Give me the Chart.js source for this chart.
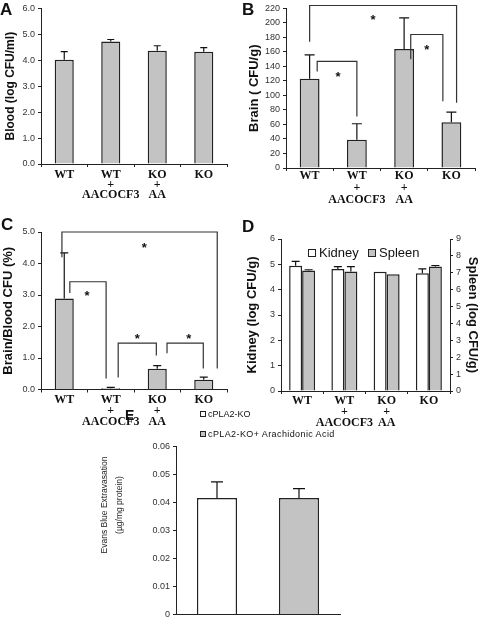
<!DOCTYPE html>
<html><head><meta charset="utf-8"><title>cPLA2 figure</title>
<script src="https://cdn.jsdelivr.net/npm/chart.js@4.4.1/dist/chart.umd.min.js"></script>
<style>
html,body{margin:0;padding:0;background:#fff}
body{position:relative;width:480px;height:623px;overflow:hidden;font-family:Arial,"Liberation Sans",sans-serif;color:#111}
canvas{position:absolute}
.let{position:absolute;font-weight:bold;font-size:17px;line-height:1}
.txt{position:absolute;white-space:nowrap}
.bx{position:absolute;box-sizing:border-box;border:1px solid #222}
.ytitle{position:absolute;text-align:center;transform:rotate(-90deg);white-space:nowrap}
</style></head>
<body>
<canvas id="cA" width="240" height="210" style="left:0;top:0"></canvas>
<canvas id="cB" width="240" height="210" style="left:240px;top:0"></canvas>
<canvas id="cC" width="240" height="225" style="left:0;top:210px"></canvas>
<canvas id="cD" width="240" height="225" style="left:240px;top:210px"></canvas>
<canvas id="cE" width="255" height="223" style="left:95px;top:400px"></canvas>

<div class="let" style="left:0;top:1px">A</div>
<div class="let" style="left:242px;top:1px">B</div>
<div class="let" style="left:1px;top:216px">C</div>
<div class="let" style="left:242px;top:218px">D</div>
<div class="let" style="left:125px;top:408px;font-size:14px">E</div>

<!-- legend D -->
<div class="bx" style="left:308px;top:249px;width:8px;height:8px;background:#fff"></div>
<div class="txt" id="lgK" style="left:319px;top:246px;font-size:13px;line-height:13px"></div>
<div class="bx" style="left:368px;top:249px;width:8px;height:8px;background:#c3c3c3"></div>
<div class="txt" id="lgS" style="left:379px;top:246px;font-size:13px;line-height:13px"></div>
<!-- legend E -->
<div class="bx" style="left:200px;top:411px;width:6px;height:6px;background:#fff"></div>
<div class="txt" id="lgE0" style="left:208px;top:409px;font-size:9px;line-height:10px"></div>
<div class="bx" style="left:200px;top:431px;width:6px;height:6px;background:#c3c3c3"></div>
<div class="txt" id="lgE1" style="left:208px;top:429px;font-size:9px;line-height:10px;letter-spacing:0.4px"></div>
<!-- y title E -->
<div class="ytitle" id="tE" style="left:41.5px;top:490px;width:140px;height:30px;font-size:8.5px;line-height:15px;color:#222"></div>

<script>
// ---------------- data ----------------
const categories = [['WT'], ['WT', '+', 'AACOCF3'], ['KO', '+', 'AA'], ['KO']];

const bloodMean = [4.02, 4.72, 4.37, 4.33];
const bloodErr  = [0.31, 0.08, 0.19, 0.16];

const brainMean = [123, 39, 164, 63];
const brainErr  = [33, 22, 43, 14];

const ratioMean = [2.89, 0.04, 0.66, 0.31];
const ratioErr  = [1.45, 0.03, 0.10, 0.08];

const organSeries = ['Kidney', 'Spleen'];
const kidneyMean = [4.94, 4.82, 4.71, 4.65];
const kidneyErr  = [0.18, 0.09, 0, 0.17];
const spleenMean = [7.13, 7.07, 6.92, 7.37];
const spleenErr  = [0.05, 0.30, 0, 0.06];

const evansLabels = ['cPLA2-KO', 'cPLA2-KO+ Arachidonic Acid'];
const evansMean = [0.0417, 0.0417];
const evansErr  = [0.0057, 0.0033];

// significance brackets: [xFrom, xTo, yTop, yLeftEnd, yRightEnd, starX, starY] (category index / data units)
const brainBrackets = [
  [0.00, 3.11, 224, 174, 90, 1.34, 209],
  [0.16, 1.00, 147, 133, 71, 0.60, 131],
  [2.14, 2.82, 184, 150, 92, 2.48, 168]
];
const ratioBrackets = [
  [-0.05, 3.29, 5.00, 4.20, 0.67, 1.72, 4.62],
  [0.12, 0.90, 3.42, 3.06, 0.35, 0.49, 3.07],
  [1.16, 1.98, 1.47, 0.38, 1.08, 1.57, 1.72],
  [2.21, 2.99, 1.47, 1.15, 0.67, 2.68, 1.72]
];

// ---------------- style ----------------
const SANS = 'Arial, "Liberation Sans", Helvetica, sans-serif';
const SERIF = '"Liberation Serif", "Times New Roman", Times, serif';
const GRAY = '#c3c3c3';
const INK = '#222';

Chart.defaults.font.family = SANS;
Chart.defaults.color = INK;
Chart.defaults.animation = false;
Chart.defaults.plugins.legend.display = false;
Chart.defaults.plugins.tooltip.enabled = false;

const errorBarPlugin = {
  id: 'errbars',
  afterDatasetsDraw(chart, args, opts) {
    const ctx = chart.ctx;
    chart.data.datasets.forEach((ds, i) => {
      if (!ds.errors) return;
      const meta = chart.getDatasetMeta(i);
      const ys = chart.scales[meta.yAxisID];
      meta.data.forEach((bar, j) => {
        const e = ds.errors[j];
        if (!e) return;
        const x = bar.x;
        const y0 = ys.getPixelForValue(ds.data[j]);
        const y1 = ys.getPixelForValue(ds.data[j] + e);
        ctx.save();
        ctx.strokeStyle = '#111';
        ctx.lineWidth = 1.2;
        ctx.beginPath();
        ctx.moveTo(x, y0); ctx.lineTo(x, y1);
        ctx.moveTo(x - opts.cap, y1); ctx.lineTo(x + opts.cap, y1);
        ctx.stroke();
        ctx.restore();
      });
    });
  }
};

const bracketPlugin = {
  id: 'brackets',
  afterDatasetsDraw(chart, args, opts) {
    const items = opts.items;
    if (!items) return;
    const xs = chart.scales.x, ys = chart.scales.y;
    const p0 = xs.getPixelForValue(0), step = xs.getPixelForValue(1) - p0;
    const px = v => p0 + v * step;
    const py = v => ys.getPixelForValue(v);
    const ctx = chart.ctx;
    ctx.save();
    ctx.strokeStyle = '#333';
    ctx.lineWidth = 1.2;
    ctx.fillStyle = '#111';
    ctx.font = 'bold 13px ' + SANS;
    ctx.textAlign = 'center';
    ctx.textBaseline = 'alphabetic';
    items.forEach(b => {
      const [x1, x2, top, l, r, sx, sy] = b;
      ctx.beginPath();
      ctx.moveTo(px(x1), py(l));
      ctx.lineTo(px(x1), py(top));
      ctx.lineTo(px(x2), py(top));
      ctx.lineTo(px(x2), py(r));
      ctx.stroke();
      ctx.fillText('*', px(sx), py(sy) + 0.58 * 13);
    });
    ctx.restore();
  }
};
Chart.register(errorBarPlugin, bracketPlugin);

function yAxis(o) {
  return {
    position: o.position || 'left',
    min: o.min, max: o.max,
    afterFit: s => { s.width = o.width; },
    ticks: { stepSize: o.step, font: { size: 9 }, color: '#333', padding: 3, callback: v => o.fmt(v) },
    grid: { drawOnChartArea: false, drawTicks: true, tickLength: 3, color: INK },
    border: { color: INK, width: 1 },
    title: {
      display: !!o.title, text: o.title, color: '#111',
      font: { size: o.tsize || 13, weight: 'bold', lineHeight: 1.2 },
      padding: { top: o.tpad || 0, bottom: 0 }
    }
  };
}
function xAxis(o) {
  return {
    afterFit: s => { s.height = o.height; },
    ticks: {
      display: o.labels !== false, maxRotation: 0, minRotation: 0, autoSkip: false, padding: o.pad || 0,
      font: { family: SERIF, weight: 'bold', size: 12, lineHeight: o.lh || 0.92 }, color: '#111'
    },
    grid: { drawOnChartArea: false, drawTicks: o.ticks !== false, tickLength: 3, color: INK, offset: true },
    border: { color: INK, width: 1 }
  };
}
function barDs(label, data, errs, color, pct) {
  return { label, data, errors: errs, backgroundColor: color, borderColor: INK, borderWidth: 1.5,
           barPercentage: pct, categoryPercentage: 1 };
}

// ---------------- A ----------------
new Chart(document.getElementById('cA'), {
  type: 'bar',
  data: { labels: categories, datasets: [barDs('Blood', bloodMean, bloodErr, GRAY, 0.41)] },
  options: {
    responsive: false,
    layout: { padding: { top: 7, right: 13, left: 0, bottom: 0 } },
    scales: {
      x: xAxis({ height: 46, lh: 0.83, pad: 3 }),
      y: yAxis({ min: 0, max: 6, step: 1, width: 41, fmt: v => v.toFixed(1),
                 title: 'Blood (log CFU/ml)', tsize: 12, tpad: 3 })
    },
    plugins: { errbars: { cap: 3.5 } }
  }
});

// ---------------- B ----------------
new Chart(document.getElementById('cB'), {
  type: 'bar',
  data: { labels: categories, datasets: [barDs('Brain', brainMean, brainErr, GRAY, 0.42)] },
  options: {
    responsive: false,
    layout: { padding: { top: 6.3, right: 5, left: 0, bottom: 0 } },
    scales: {
      x: xAxis({ height: 42, lh: 1.0, pad: -1 }),
      y: yAxis({ min: 0, max: 220, step: 20, width: 46, fmt: v => String(v),
                 title: 'Brain ( CFU/g)', tsize: 13, tpad: 7 })
    },
    plugins: { errbars: { cap: 5 }, brackets: { items: brainBrackets } }
  }
});

// ---------------- C ----------------
new Chart(document.getElementById('cC'), {
  type: 'bar',
  data: { labels: categories, datasets: [barDs('Brain/Blood', ratioMean, ratioErr, GRAY, 0.41)] },
  options: {
    responsive: false,
    layout: { padding: { top: 22, right: 13, left: 0, bottom: 0 } },
    scales: {
      x: xAxis({ height: 45.5, lh: 0.92, pad: 2 }),
      y: yAxis({ min: 0, max: 5, step: 1, width: 41, fmt: v => v.toFixed(1),
                 title: 'Brain/Blood CFU (%)', tsize: 13, tpad: 1 })
    },
    plugins: { errbars: { cap: 4 }, brackets: { items: ratioBrackets } }
  }
});

// ---------------- D ----------------
new Chart(document.getElementById('cD'), {
  type: 'bar',
  data: {
    labels: categories,
    datasets: [
      Object.assign(barDs(organSeries[0], kidneyMean, kidneyErr, '#ffffff', 1), { yAxisID: 'y', categoryPercentage: 0.615 }),
      Object.assign(barDs(organSeries[1], spleenMean, spleenErr, GRAY, 1), { yAxisID: 'y1', categoryPercentage: 0.615 })
    ]
  },
  options: {
    responsive: false,
    layout: { padding: { top: 29, right: 0, left: 0, bottom: 0 } },
    scales: {
      x: xAxis({ height: 44, lh: 0.92, pad: 1 }),
      y: yAxis({ min: 0, max: 6, step: 1, width: 41, fmt: v => String(v),
                 title: 'Kidney (log CFU/g)', tsize: 13, tpad: 5 }),
      y1: yAxis({ position: 'right', min: 0, max: 9, step: 1, width: 30, fmt: v => String(v),
                  title: 'Spleen (log CFU/g)', tsize: 13, tpad: 0 })
    },
    plugins: { errbars: { cap: 4 } }
  }
});

// ---------------- E ----------------
new Chart(document.getElementById('cE'), {
  type: 'bar',
  data: {
    labels: evansLabels,
    datasets: [{ label: 'Evans Blue', data: evansMean, errors: evansErr,
                 backgroundColor: ['#ffffff', GRAY], borderColor: INK, borderWidth: 1.5,
                 barPercentage: 0.49, categoryPercentage: 1 }]
  },
  options: {
    responsive: false,
    layout: { padding: { top: 46.7, right: 10, left: 0, bottom: 0 } },
    scales: {
      x: xAxis({ height: 3, labels: false, ticks: false }),
      y: yAxis({ min: 0, max: 0.06, step: 0.01, width: 81, fmt: v => (v === 0 ? '0' : v.toFixed(2)) })
    },
    plugins: { errbars: { cap: 6 } }
  }
});

// ---------------- HTML text (legends, E axis title) ----------------
document.getElementById('lgK').textContent = organSeries[0];
document.getElementById('lgS').textContent = organSeries[1];
document.getElementById('lgE0').textContent = evansLabels[0];
document.getElementById('lgE1').textContent = evansLabels[1];
document.getElementById('tE').innerHTML = 'Evans Blue Extravasation<br>(&micro;g/mg protein)';
</script>
</body></html>
